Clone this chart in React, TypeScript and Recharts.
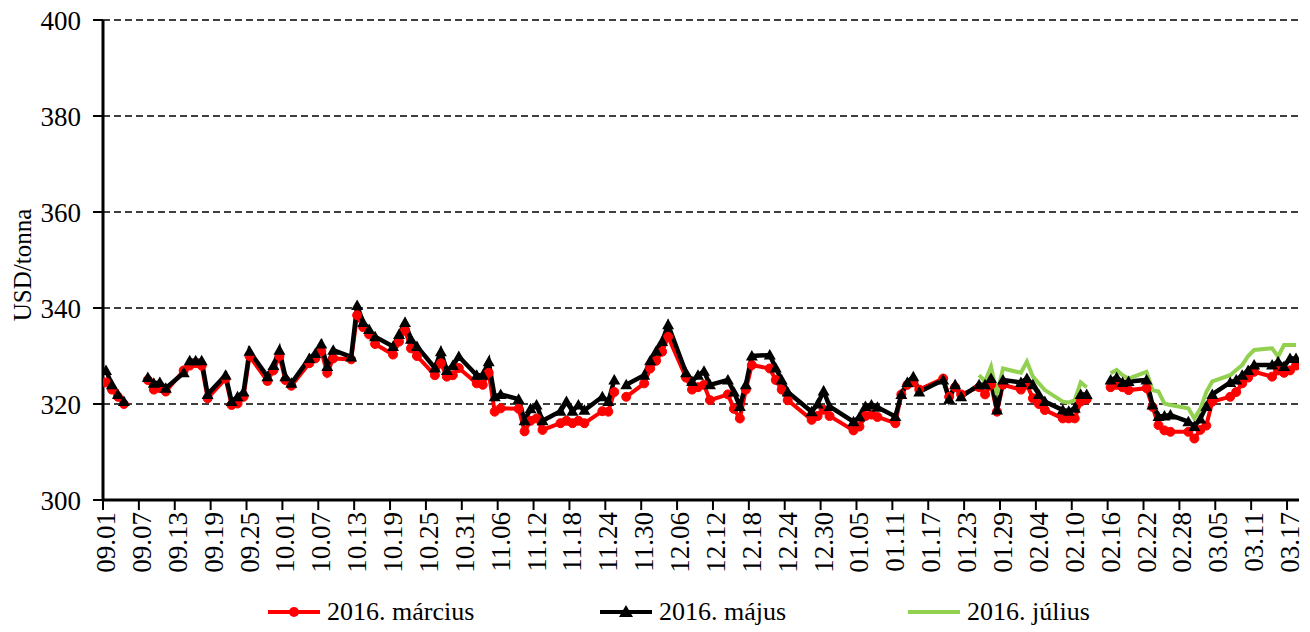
import React from 'react';
import { LineChart, Line, XAxis, YAxis, CartesianGrid } from 'recharts';

const FONT = '"Liberation Serif", "Times New Roman", serif';

// days since 2015-09-01 (trading days; holiday rows break the lines)
const dayOffset = [
  0, 1, 2, 3, 6, 7, 8, 9, 10,
  13, 14, 15, 16, 17, 20, 21, 22, 23, 24,
  27, 28, 29, 30, 31, 34, 35, 36, 37, 38,
  41, 42, 43, 44, 45, 48, 49, 50, 51, 52,
  55, 56, 57, 58, 59, 62, 63, 64, 65, 66,
  69, 70, 71, 72, 73, 76, 77, 78, 79, 80,
  83, 84, 85, 86, 87, 90, 91, 92, 93, 94,
  97, 98, 99, 100, 101, 104, 105, 106, 107, 108,
  111, 112, 113, 114, 118, 119, 120, 121,
  125, 126, 127, 128, 129, 132, 133, 134, 135, 136,
  140, 141, 142, 143, 146, 147, 148, 149, 150,
  153, 154, 155, 156, 157, 160, 161, 162, 163, 164,
  167, 168, 169, 170, 171, 174, 175, 176, 177, 178,
  181, 182, 183, 184, 185, 188, 189, 190, 191, 192,
  195, 196, 197, 198, 199,
];

const march: (number | null)[] = [
  324.5, 323, 321.5, 320, null, 325, 323, 323.3, 322.6,
  327, 328, 328.5, 328, 321.2, 325.3, 319.8, 320.1, 321.5, 330,
  324.8, 327, 330, 325, 323.8, 328.5, 329.5, 331, 326.5, 329.5,
  329.3, 338.5, 336, 334.5, 332.5, 330.3, 333, 335.4, 331.6, 330,
  326, 328.5, 325.7, 326, 327.5, 324.3, 324, 326.5, 318.4, 319.1,
  319, 314.3, 316.5, 317, 314.6, 316, 316.5, 316, 316.5, 316,
  318.5, 318.4, 322.5, null, 321.5, 324.3, 327.4, 329, 330.9, 334,
  325.5, 323, 323.5, 324, 320.8, 322, 319, 317, 323, 328.1,
  327.4, 325, 323, 320.8, 316.7, 317.5, 318.8, 317.5,
  314.5, 315.3, 317.5, 317.8, 317.3, 316, 322, 324, 324.5, 323,
  325.3, 321.5, 323.5, 322, 323.5, 322, 324, 318.4, 324,
  323, 324, 321.2, 320, 318.75, 317, 317, 317, 320.5, 321,
  null, 323.5, 324, 323.5, 322.9, 323.3, 319.4, 315.6, 314.5, 314.2,
  314.2, 312.8, 314.6, 315.5, 320.5, 321.5, 322.5, 324.3, 325.5, 326.7,
  325.7, 327, 326.5, 327, 328,
];

const may: (number | null)[] = [
  327, 324, 322, 320.5, null, 325.5, 324.3, 324.5, 323.3,
  326.5, 329, 329, 329, 322, 326, 320.5, 321.5, 322.5, 331,
  325.7, 328, 331.2, 325.7, 324.3, 329.5, 330.5, 332.5, 327.8, 331.2,
  329.8, 340.5, 337, 335.5, 334, 332, 334.5, 337, 333.5, 332,
  327.5, 330.9, 327, 328, 329.9, 326, 326, 328.8, 321.5, 322,
  321, 316.5, 319, 319.8, 316.5, 318.5, 320.5, 318.5, 319.8, 318.7,
  321.5, 320.5, 325, null, 324, 326, 329, 331, 333, 336.5,
  326.5, 324.7, 326, 326.8, 324, 325, 322.5, 319.5, 324, 330,
  330.2, 327.5, 325, 322.5, 318.4, 320, 322.7, 319.5,
  316.3, 317.3, 319.5, 319.8, 319.3, 317.4, 322, 324.5, 325.7, 322.5,
  325, 321, 324, 321.5, 324, 324, 325.3, 318.75, 325,
  324.5, 325.3, 324, 322, 320.5, 318.75, 318.5, 319.1, 322, 322,
  null, 325, 325.5, 324.5, 324.7, 325, 319.8, 317.4, 317.5, 317.7,
  316.3, 315.3, 316.9, 319.5, 322, 324.5, 325, 326, 327, 328.1,
  328.1, 328.8, 327.8, 329.5, 329.5,
];

const julyDays = [
  146, 147, 148, 149, 150, 153, 154, 155, 156, 157,
  160, 161, 162, 163, 164, 167, 168, 169, 170, 171,
  174, 175, 176, 177, 178, 181, 182, 183, 184, 185,
  188, 189, 190, 191, 192, 195, 196, 197, 198, 199,
];
const july: (number | null)[] = [
  326, 324.7, 327.8, 321.9, 327.4, 326.5, 328.8, 325.7, 324.3, 322.9,
  320.5, 320.3, 320.8, 324.5, 323.5, null, 326.4, 327.1, 326, 325.3,
  326.7, 322.9, 322.6, 320.1, 319.8, 319.1, 317, 319, 322.5, 324.7,
  326, 327.1, 328.1, 330, 331.25, 331.6, 329.9, 332.3, 332.3, 332.3,
];

const tickLabels = [
  '09.01', '09.07', '09.13', '09.19', '09.25', '10.01', '10.07', '10.13', '10.19',
  '10.25', '10.31', '11.06', '11.12', '11.18', '11.24', '11.30', '12.06', '12.12',
  '12.18', '12.24', '12.30', '01.05', '01.11', '01.17', '01.23', '01.29', '02.04',
  '02.10', '02.16', '02.22', '02.28', '03.05', '03.11', '03.17',
];
const TICK_STEP = 6;
const yTicks = [300, 320, 340, 360, 380, 400];

const seriesNames = ['2016. március', '2016. május', '2016. július'];
const seriesColors = ['#FF0000', '#000000', '#92D050'];

const julyMap = new Map<number, number | null>();
julyDays.forEach((d, i) => julyMap.set(d, july[i]));

const rows = dayOffset.map((d, i) => ({
  x: d + 0.5,
  march: march[i],
  may: may[i],
  july: julyMap.has(d) ? julyMap.get(d) : null,
}));

const xTicks = tickLabels.map((_, i) => i * TICK_STEP);

const XTick = (props: any) => {
  const { x, y, payload } = props;
  const label = tickLabels[Math.round(payload.value / TICK_STEP)];
  const tx = x + 3;
  const ty = y;
  return (
    <text
      x={tx}
      y={ty}
      transform={`rotate(-90, ${tx}, ${ty})`}
      textAnchor="end"
      dominantBaseline="central"
      fontSize={27}
      fontFamily={FONT}
      fill="#000"
    >
      {label}
    </text>
  );
};

const TriDot = (props: any) => {
  const { cx, cy, index } = props;
  if (cx == null || cy == null || Number.isNaN(cy)) return <g key={`t${index}`} />;
  return (
    <polygon
      key={`t${index}`}
      points={`${cx},${cy - 6} ${cx - 6},${cy + 4.5} ${cx + 6},${cy + 4.5}`}
      fill="#000"
    />
  );
};

const renderTitle = () => (
  <text
    x={22}
    y={265}
    transform="rotate(-90, 22, 265)"
    textAnchor="middle"
    dominantBaseline="central"
    fontSize={25}
    fontFamily={FONT}
    fill="#000"
  >
    USD/tonna
  </text>
);

const LegendIcon = ({ idx }: { idx: number }) => (
  <svg width={56} height={20} style={{ display: 'block' }}>
    <line x1={2} y1={10} x2={54} y2={10} stroke={seriesColors[idx]} strokeWidth={4} />
    {idx === 0 && <circle cx={28} cy={10} r={5} fill={seriesColors[0]} />}
    {idx === 1 && <polygon points="28,3 21,15 35,15" fill="#000" />}
  </svg>
);

const legendX = [266, 598, 906];

export default function App() {
  return (
    <div style={{ position: 'absolute', left: 0, top: 0, width: 1310, height: 632, background: '#fff' }}>
      <LineChart
        width={1310}
        height={632}
        data={rows}
        margin={{ top: 20, right: 11, left: 0, bottom: 52 }}
      >
        <CartesianGrid
          horizontal
          vertical={false}
          stroke="#000"
          strokeWidth={1.3}
          strokeDasharray="7 4"
        />
        <XAxis
          type="number"
          dataKey="x"
          domain={[0, 200]}
          ticks={xTicks}
          interval={0}
          height={80}
          tick={<XTick />}
          tickLine={{ stroke: '#000', strokeWidth: 2 }}
          tickSize={10}
          tickMargin={2}
          axisLine={{ stroke: '#000', strokeWidth: 3 }}
          allowDataOverflow
        />
        <YAxis
          type="number"
          domain={[300, 400]}
          ticks={yTicks}
          interval={0}
          width={103}
          tick={{ fontSize: 27, fill: '#000', fontFamily: FONT }}
          tickLine={{ stroke: '#000', strokeWidth: 2 }}
          tickSize={10}
          tickMargin={12}
          axisLine={{ stroke: '#000', strokeWidth: 3 }}
          label={{ content: renderTitle }}
        />
        <Line
          type="linear"
          dataKey="march"
          stroke={seriesColors[0]}
          strokeWidth={4}
          dot={{ r: 4.5, fill: seriesColors[0], stroke: seriesColors[0], strokeWidth: 1 }}
          activeDot={false}
          isAnimationActive={false}
        />
        <Line
          type="linear"
          dataKey="may"
          stroke={seriesColors[1]}
          strokeWidth={4.5}
          dot={<TriDot />}
          activeDot={false}
          isAnimationActive={false}
        />
        <Line
          type="linear"
          dataKey="july"
          stroke={seriesColors[2]}
          strokeWidth={4}
          dot={false}
          activeDot={false}
          isAnimationActive={false}
        />
      </LineChart>
      {seriesNames.map((name, i) => (
        <div
          key={name}
          style={{
            position: 'absolute',
            left: legendX[i],
            top: 596,
            display: 'flex',
            alignItems: 'center',
            fontFamily: FONT,
            fontSize: 26,
            color: '#000',
            lineHeight: '32px',
          }}
        >
          <LegendIcon idx={i} />
          <span style={{ marginLeft: 5 }}>{name}</span>
        </div>
      ))}
    </div>
  );
}
